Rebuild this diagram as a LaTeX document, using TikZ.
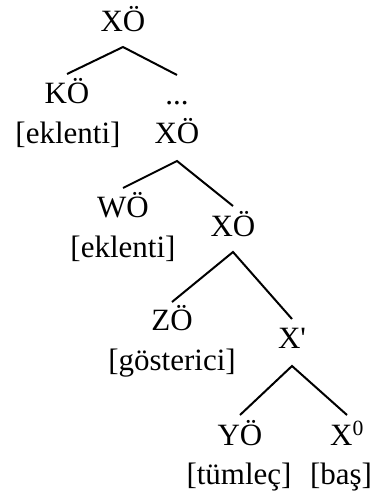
\documentclass[tikz,border=0pt]{standalone}
\usepackage{fontspec}
\setmainfont{Liberation Serif}[Ligatures=TeXOff]

\begin{document}
\begin{tikzpicture}[x=1pt,y=-1pt,
  treecat/.style={font=\fontsize{31}{36}\selectfont,inner sep=0pt,
    anchor=base},
  treefeat/.style={font=\fontsize{31}{36}\selectfont,inner sep=0pt,
    anchor=base},
  treeedge/.style={line width=2pt}
]
  \useasboundingbox (0,0) rectangle (379,495);

  \node[treecat] (xp) at (123,32) {XÖ};
  \node[treecat] (kp) at (67,103) {KÖ};
  \node[treefeat] (kfeat) at (68,143) {[eklenti]};
  \node[treecat] (dots) at (177,104) {...};
  \draw[treeedge] ([yshift=29pt]kp.base) -- ([yshift=-15pt]xp.base)
    -- ([yshift=29pt]dots.base);

  \node[treecat] (xpb) at (177,143) {XÖ};
  \node[treecat] (wp) at (123,217) {WÖ};
  \node[treefeat] (wfeat) at (123,257) {[eklenti]};
  \node[treecat] (xpc) at (233,236) {XÖ};
  \draw[treeedge] ([yshift=29pt]wp.base) -- ([yshift=-18pt]xpb.base)
    -- ([yshift=30pt]xpc.base);

  \node[treecat] (zp) at (172,330) {ZÖ};
  \node[treefeat] (zfeat) at (172,370) {[gösterici]};
  \node[treecat] (xbar) at (292,348) {X'};
  \draw[treeedge] ([yshift=28pt]zp.base) -- ([yshift=-16pt]xpc.base)
    -- ([yshift=29pt]xbar.base);

  \node[treecat] (yp) at (240,445) {YÖ};
  \node[treefeat] (yfeat) at (239,484) {[tümleç]};
  \node[treecat] (xhead) at (347,445) {X\textsuperscript{0}};
  \node[treefeat] (hfeat) at (341,484) {[baş]};
  \draw[treeedge] ([yshift=30pt]yp.base) -- ([yshift=-18pt]xbar.base)
    -- ([yshift=30pt]xhead.base);
\end{tikzpicture}
\end{document}
